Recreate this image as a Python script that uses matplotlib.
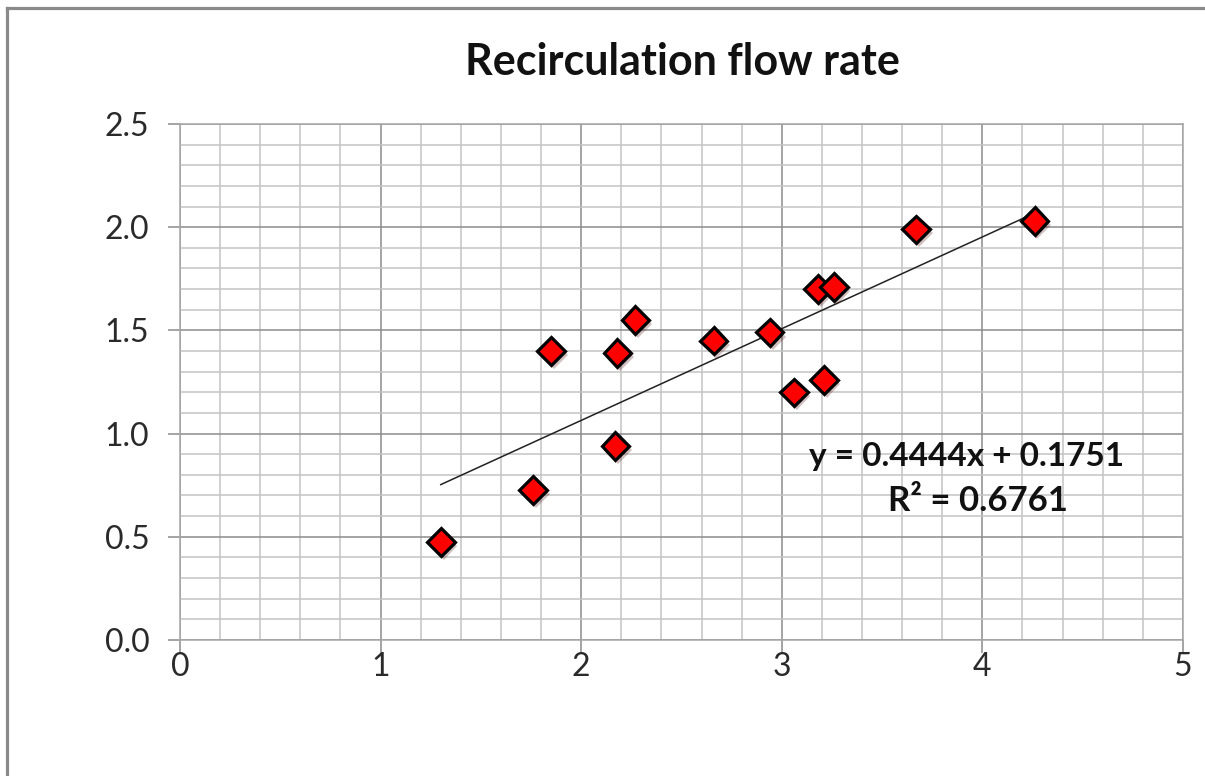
import matplotlib.pyplot as plt
import matplotlib.patheffects as pe
from matplotlib.lines import Line2D
from matplotlib.ticker import MultipleLocator

# =========================
# DATA
# =========================
flow_x = [1.30, 1.76, 1.85, 2.17, 2.18, 2.27, 2.66, 2.94, 3.06, 3.18, 3.21, 3.26, 3.67, 4.26]
flow_y = [0.475, 0.727, 1.40, 0.94, 1.39, 1.55, 1.45, 1.49, 1.20, 1.70, 1.26, 1.71, 1.99, 2.03]

# linear trendline as reported
slope = 0.4444
intercept = 0.1751
r_squared = 0.6761

x_ticks = [0, 1, 2, 3, 4, 5]
y_ticks = [0.0, 0.5, 1.0, 1.5, 2.0, 2.5]

plt.rcParams["font.family"] = ["Lato", "DejaVu Sans"]

fig = plt.figure(figsize=(12.05, 7.76), dpi=100)
ax = fig.add_axes([0.1494, 0.1753, 0.9817 - 0.1494, 0.8402 - 0.1753])

# outer chart frame (left + top)
frame_col = "#8a8a8a"
fig.add_artist(Line2D([7.5 / 1205, 7.5 / 1205], [0, 1 - 7.5 / 776],
                      transform=fig.transFigure, color=frame_col, lw=2.3))
fig.add_artist(Line2D([7.5 / 1205, 1], [1 - 7.5 / 776, 1 - 7.5 / 776],
                      transform=fig.transFigure, color=frame_col, lw=2.3))

ax.set_xlim(0, 5)
ax.set_ylim(0, 2.5)
ax.set_xticks(x_ticks)
ax.set_yticks(y_ticks)
ax.set_xticklabels([str(v) for v in x_ticks])
ax.set_yticklabels([f"{v:.1f}" for v in y_ticks])
ax.xaxis.set_minor_locator(MultipleLocator(0.2))
ax.yaxis.set_minor_locator(MultipleLocator(0.1))

ax.grid(which="major", color="#8c8c8c", lw=1.1)
ax.grid(which="minor", color="#c4c4c4", lw=1.1)
ax.set_axisbelow(True)

for sp in ax.spines.values():
    sp.set_color("#a6a6a6")
    sp.set_linewidth(1.1)

ax.tick_params(which="major", direction="out", length=9, width=1.1,
               color="#8c8c8c", labelsize=23, labelcolor="#2a2a2a")
ax.tick_params(which="minor", length=0)
ax.tick_params(axis="y", pad=13)
ax.tick_params(axis="x", pad=0)

# trendline over the data range
x0, x1 = min(flow_x), max(flow_x)
ax.plot([x0, x1], [slope * x0 + intercept, slope * x1 + intercept],
        color="#222222", lw=1.1, zorder=3)

ax.plot(flow_x, flow_y, linestyle="none", marker="D", markersize=14,
        markerfacecolor="#ff0000", markeredgecolor="black", markeredgewidth=2.3,
        zorder=4,
        path_effects=[pe.SimplePatchShadow(offset=(2, -3), alpha=0.25),
                      pe.Normal()])

ax.text(3.92, 0.89, f"y = {slope:.4f}x + {intercept:.4f}", ha="center", va="center",
        fontsize=24, fontweight="bold", color="#111111", zorder=5)
ax.text(3.98, 0.675, f"R² = {r_squared:.4f}", ha="center", va="center",
        fontsize=25, fontweight="bold", color="#111111", zorder=5)

fig.text(682 / 1205, 1 - 62 / 776, "Recirculation flow rate", ha="center", va="center",
         fontsize=31, fontweight="bold", color="#111111")

fig.savefig("out.png", dpi=100, facecolor="white")
